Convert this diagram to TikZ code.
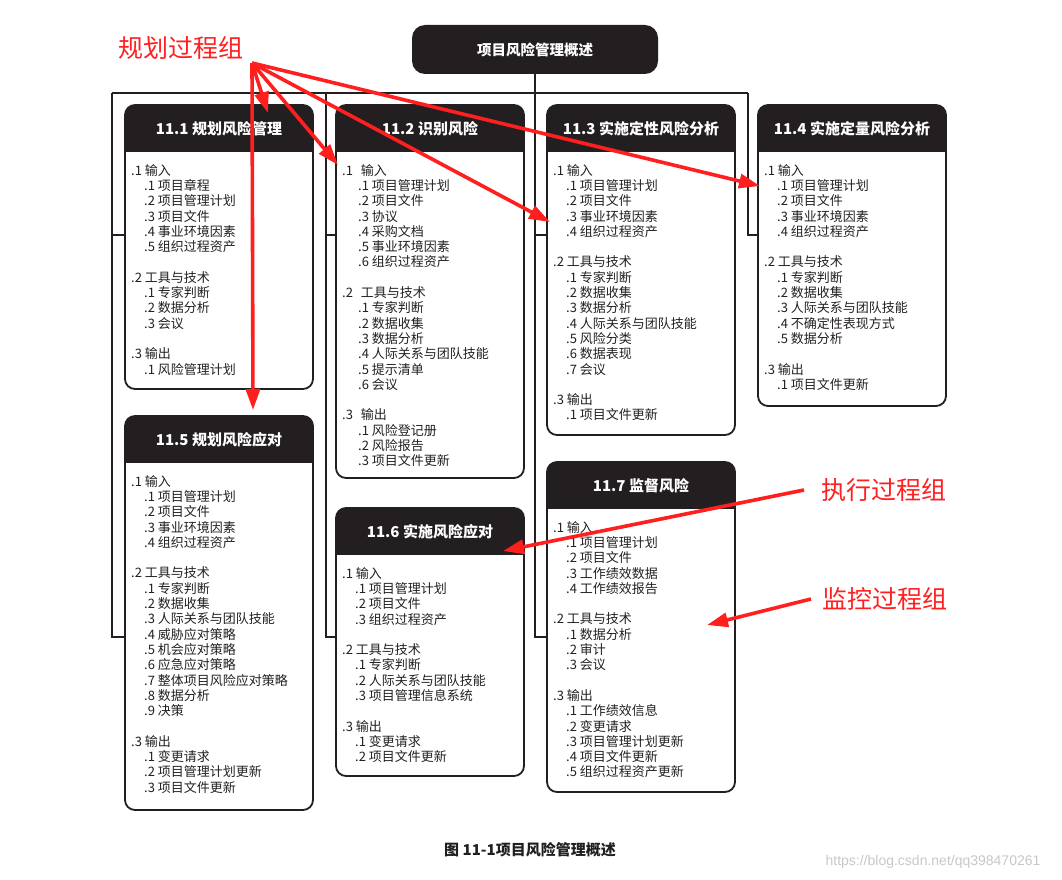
\documentclass[tikz,border=0pt]{standalone}
\usepackage{fontspec}
\setmainfont{Noto Sans CJK SC}
\newfontfamily\wmfont{Liberation Sans}
\usetikzlibrary{positioning,arrows.meta}

\definecolor{boxblack}{HTML}{231F20}
\definecolor{markred}{HTML}{FF1F1F}

\newcommand\ind{\hspace*{13pt}}
\newcommand\procbox[6]{%
  \node[procbody, minimum height=#4pt] (#1) at (#2,#3) {};
  \begin{scope}
    \clip[rounded corners=10pt] (#1.north west) rectangle (#1.south east);
    \fill[boxblack] (#1.north west) rectangle ([yshift=-47pt]#1.north east);
  \end{scope}
  \draw[boxline] (#1.north west) rectangle (#1.south east);
  \node[proctitle] (#1t) at ([yshift=-24pt]#1.north) {#5};
  \node[proctext] (#1b) at ([shift={(6pt,-59pt)}]#1.north west) {#6};
}

\begin{document}
\begin{tikzpicture}[x=1pt,y=-1pt,
  procbody/.style={minimum width=188pt, anchor=north west, inner sep=0pt, outer sep=0pt},
  boxline/.style={draw=boxblack, line width=1.8pt, rounded corners=10pt},
  proctitle/.style={text=white, font=\bfseries\fontsize{15}{17}\selectfont},
  proctext/.style={anchor=north west, align=left, inner sep=0pt, text=boxblack,
    font=\fontsize{13}{15.3}\selectfont},
  overview/.style={fill=boxblack, text=white, rounded corners=13pt, minimum width=246pt,
    minimum height=49pt, font=\bfseries\fontsize{14.5}{17}\selectfont},
  link/.style={draw=boxblack, line width=1.3pt},
  redarr/.style={-{Triangle[length=21pt,width=14pt]}, draw=markred, fill=markred, line width=3.6pt},
  grouplbl/.style={text=markred, font=\fontsize{25}{28}\selectfont}]
\useasboundingbox (0,0) rectangle (1062,880);

% top of the tree
\node[overview] (ov) at (535,49.5) {项目风险管理概述};
\coordinate (busL) at (112,93);
\coordinate (busM) at (326,93);
\coordinate (busR) at (748,93);
\coordinate (row1) at (0,235);
\coordinate (row2) at (0,637);

% processes
\procbox{p11}{125}{105}{284}{11.1 规划风险管理}{%
.1 输入\\
\ind.1 项目章程\\
\ind.2 项目管理计划\\
\ind.3 项目文件\\
\ind.4 事业环境因素\\
\ind.5 组织过程资产\\[15.3pt]
.2 工具与技术\\
\ind.1 专家判断\\
\ind.2 数据分析\\
\ind.3 会议\\[15.3pt]
.3 输出\\
\ind.1 风险管理计划}

\procbox{p12}{336}{105}{373}{11.2 识别风险}{%
.1\hspace{5pt} 输入\\
\hspace*{16pt}.1 项目管理计划\\
\hspace*{16pt}.2 项目文件\\
\hspace*{16pt}.3 协议\\
\hspace*{16pt}.4 采购文档\\
\hspace*{16pt}.5 事业环境因素\\
\hspace*{16pt}.6 组织过程资产\\[15.3pt]
.2\hspace{5pt} 工具与技术\\
\hspace*{16pt}.1 专家判断\\
\hspace*{16pt}.2 数据收集\\
\hspace*{16pt}.3 数据分析\\
\hspace*{16pt}.4 人际关系与团队技能\\
\hspace*{16pt}.5 提示清单\\
\hspace*{16pt}.6 会议\\[15.3pt]
.3\hspace{5pt} 输出\\
\hspace*{16pt}.1 风险登记册\\
\hspace*{16pt}.2 风险报告\\
\hspace*{16pt}.3 项目文件更新}

\procbox{p13}{547}{105}{330}{11.3 实施定性风险分析}{%
.1 输入\\
\ind.1 项目管理计划\\
\ind.2 项目文件\\
\ind.3 事业环境因素\\
\ind.4 组织过程资产\\[15.3pt]
.2 工具与技术\\
\ind.1 专家判断\\
\ind.2 数据收集\\
\ind.3 数据分析\\
\ind.4 人际关系与团队技能\\
\ind.5 风险分类\\
\ind.6 数据表现\\
\ind.7 会议\\[15.3pt]
.3 输出\\
\ind.1 项目文件更新}

\procbox{p14}{758}{105}{301}{11.4 实施定量风险分析}{%
.1 输入\\
\ind.1 项目管理计划\\
\ind.2 项目文件\\
\ind.3 事业环境因素\\
\ind.4 组织过程资产\\[15.3pt]
.2 工具与技术\\
\ind.1 专家判断\\
\ind.2 数据收集\\
\ind.3 人际关系与团队技能\\
\ind.4 不确定性表现方式\\
\ind.5 数据分析\\[15.3pt]
.3 输出\\
\ind.1 项目文件更新}

\procbox{p15}{125}{416}{394}{11.5 规划风险应对}{%
.1 输入\\
\ind.1 项目管理计划\\
\ind.2 项目文件\\
\ind.3 事业环境因素\\
\ind.4 组织过程资产\\[15.3pt]
.2 工具与技术\\
\ind.1 专家判断\\
\ind.2 数据收集\\
\ind.3 人际关系与团队技能\\
\ind.4 威胁应对策略\\
\ind.5 机会应对策略\\
\ind.6 应急应对策略\\
\ind.7 整体项目风险应对策略\\
\ind.8 数据分析\\
\ind.9 决策\\[15.3pt]
.3 输出\\
\ind.1 变更请求\\
\ind.2 项目管理计划更新\\
\ind.3 项目文件更新}

\procbox{p16}{336}{508}{268}{11.6 实施风险应对}{%
.1 输入\\
\ind.1 项目管理计划\\
\ind.2 项目文件\\
\ind.3 组织过程资产\\[15.3pt]
.2 工具与技术\\
\ind.1 专家判断\\
\ind.2 人际关系与团队技能\\
\ind.3 项目管理信息系统\\[15.3pt]
.3 输出\\
\ind.1 变更请求\\
\ind.2 项目文件更新}

\procbox{p17}{547}{462}{330}{11.7 监督风险}{%
.1 输入\\
\ind.1 项目管理计划\\
\ind.2 项目文件\\
\ind.3 工作绩效数据\\
\ind.4 工作绩效报告\\[15.3pt]
.2 工具与技术\\
\ind.1 数据分析\\
\ind.2 审计\\
\ind.3 会议\\[15.3pt]
.3 输出\\
\ind.1 工作绩效信息\\
\ind.2 变更请求\\
\ind.3 项目管理计划更新\\
\ind.4 项目文件更新\\
\ind.5 组织过程资产更新}

% tree lines
\draw[link] (busL) -- (busR);
\draw[link] (busL) -- (busL |- row2) -- (p15.west |- row2);
\draw[link] (busL |- row1) -- (p11.west |- row1);
\draw[link] (busM) -- (busM |- row2) -- (p16.west |- row2);
\draw[link] (busM |- row1) -- (p12.west |- row1);
\draw[link] (ov.south) -- (ov.south |- row2) -- (p17.west |- row2);
\draw[link] (ov.south |- row1) -- (p13.west |- row1);
\draw[link] (busR) -- (busR |- row1) -- (p14.west |- row1);

% caption
\node[font=\bfseries\fontsize{15}{18}\selectfont, text=boxblack] (cap) at (530,850) {图 11-1项目风险管理概述};
\node[font=\wmfont\fontsize{14}{16}\selectfont, text=black!22] (wm) at (933,862) {https://blog.csdn.net/qq398470261};

% process group marks
\node[grouplbl] (plan) at (181,48) {规划过程组};
\node[grouplbl] (exec) at (884,490) {执行过程组};
\node[grouplbl] (mon) at (885,599) {监控过程组};
\coordinate (planfrom) at (252,63);
\draw[redarr] (planfrom) -- ([shift={(143,8)}]p11.north west);
\draw[redarr] (planfrom) -- ([shift={(128,-6)}]p15.north west);
\draw[redarr] (planfrom) -- ([shift={(2,60)}]p12.north west);
\draw[redarr] (planfrom) -- ([shift={(3,117)}]p13.north west);
\draw[redarr] (planfrom) -- ([shift={(2,81)}]p14.north west);
\draw[redarr] ([xshift=-14pt]exec.west) -- ([shift={(167,43)}]p16.north west);
\draw[redarr] ([xshift=-8pt]mon.west) -- ([shift={(160,163)}]p17.north west);
\end{tikzpicture}
\end{document}
